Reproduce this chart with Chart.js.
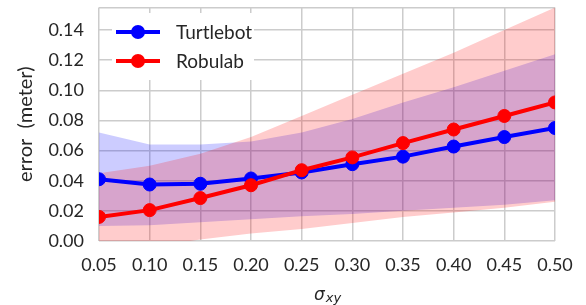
<!DOCTYPE html>
<html>
<head>
<meta charset="utf-8">
<script src="https://cdn.jsdelivr.net/npm/chart.js@4.4.1/dist/chart.umd.min.js"></script>
<style>
    html, body { margin: 0; padding: 0; background: #fff; }
</style>
</head>
<body>
<canvas id="errorChart" width="586" height="305"></canvas>
<script>
const sigmaXY = [0.05, 0.10, 0.15, 0.20, 0.25, 0.30, 0.35, 0.40, 0.45, 0.50];

const turtlebotMean  = [0.041, 0.0375, 0.038, 0.0415, 0.0455, 0.051, 0.056, 0.0627, 0.069, 0.075];
const turtlebotUpper = [0.072, 0.064, 0.064, 0.066, 0.072, 0.081, 0.092, 0.102, 0.113, 0.124];
const turtlebotLower = [0.010, 0.0105, 0.0125, 0.0145, 0.0165, 0.018, 0.020, 0.022, 0.024, 0.027];

const robulabMean  = [0.016, 0.0205, 0.0285, 0.037, 0.047, 0.0555, 0.065, 0.074, 0.083, 0.092];
const robulabUpper = [0.045, 0.050, 0.058, 0.069, 0.083, 0.097, 0.111, 0.125, 0.140, 0.155];
const robulabLower = [-0.008, -0.004, 0.001, 0.005, 0.008, 0.012, 0.016, 0.019, 0.022, 0.026];

const seriesNames = ['Turtlebot', 'Robulab'];

function pts(values) {
    return values.map((v, i) => ({ x: sigmaXY[i], y: v }));
}

function band(values, color, fillTarget, order) {
    return {
        data: pts(values),
        borderWidth: 0,
        pointRadius: 0,
        backgroundColor: color,
        fill: fillTarget,
        order: order,
        clip: 0
    };
}

function line(label, values, color, order) {
    return {
        label: label,
        data: pts(values),
        borderColor: color,
        backgroundColor: color,
        borderWidth: 4,
        pointRadius: 6.5,
        pointBorderWidth: 1,
        pointBorderColor: color,
        fill: false,
        order: order,
        clip: 0
    };
}

// legend drawn inside the plot, top-left, like matplotlib
const insideLegend = {
    id: 'insideLegend',
    afterDatasetsDraw(chart) {
        const ctx = chart.ctx;
        ctx.save();
        ctx.fillStyle = '#ffffff';
        ctx.fillRect(112, 13, 142, 67);
        const items = [
            { text: seriesNames[0], color: '#0000ff', y: 32 },
            { text: seriesNames[1], color: '#ff0000', y: 61 }
        ];
        items.forEach(it => {
            ctx.strokeStyle = it.color;
            ctx.lineWidth = 4;
            ctx.beginPath();
            ctx.moveTo(116, it.y);
            ctx.lineTo(160, it.y);
            ctx.stroke();
            ctx.fillStyle = it.color;
            ctx.beginPath();
            ctx.arc(138, it.y, 7, 0, Math.PI * 2);
            ctx.fill();
            ctx.fillStyle = '#262626';
            ctx.font = '19px Lato';
            ctx.textBaseline = 'middle';
            ctx.textAlign = 'left';
            ctx.fillText(it.text, 176, it.y + 1);
        });
        ctx.restore();
    }
};

// x axis title: sigma with subscript xy
const sigmaTitle = {
    id: 'sigmaTitle',
    afterDraw(chart) {
        const ctx = chart.ctx;
        const area = chart.chartArea;
        const cx = (area.left + area.right) / 2;
        ctx.save();
        ctx.fillStyle = '#262626';
        ctx.textBaseline = 'alphabetic';
        ctx.textAlign = 'left';
        ctx.font = 'italic 17px "DejaVu Sans"';
        const w1 = ctx.measureText('σ').width;
        ctx.font = 'italic 13px "DejaVu Sans"';
        const w2 = ctx.measureText('xy').width;
        const x0 = cx - (w1 + w2) / 2;
        ctx.font = 'italic 17px "DejaVu Sans"';
        ctx.fillText('σ', x0, 300);
        ctx.font = 'italic 13px "DejaVu Sans"';
        ctx.fillText('xy', x0 + w1 + 1, 302);
        ctx.restore();
    }
};

const ctx = document.getElementById('errorChart').getContext('2d');
new Chart(ctx, {
    type: 'line',
    data: {
        datasets: [
            band(turtlebotLower, 'rgba(0,0,255,0.2)', false, 5),
            band(turtlebotUpper, 'rgba(0,0,255,0.2)', 0, 4),
            band(robulabLower, 'rgba(255,0,0,0.2)', false, 3),
            band(robulabUpper, 'rgba(255,0,0,0.2)', 2, 2),
            line(seriesNames[0], turtlebotMean, '#0000ff', 1),
            line(seriesNames[1], robulabMean, '#ff0000', 0)
        ]
    },
    options: {
        responsive: false,
        animation: false,
        layout: { padding: { left: 0, right: 31, top: 6, bottom: 0 } },
        plugins: {
            legend: { display: false },
            tooltip: { enabled: false }
        },
        scales: {
            x: {
                type: 'linear',
                min: 0.05,
                max: 0.5,
                ticks: {
                    stepSize: 0.05,
                    padding: 13,
                    color: '#262626',
                    font: { family: 'Lato', size: 18 },
                    callback: v => v.toFixed(2)
                },
                grid: { color: '#cccccc', lineWidth: 1.5, drawTicks: false },
                border: { display: false },
                afterFit: s => { s.height = 64; s.paddingLeft = 0; s.paddingRight = 0; }
            },
            y: {
                min: 0,
                max: 0.155,
                ticks: {
                    stepSize: 0.02,
                    padding: 15,
                    color: '#262626',
                    font: { family: 'Lato', size: 18 },
                    callback: v => v > 0.145 ? '' : v.toFixed(2)
                },
                title: {
                    display: true,
                    text: 'error  (meter)',
                    color: '#262626',
                    font: { family: 'Lato', size: 20 },
                    padding: { top: 14, bottom: 0 }
                },
                grid: { color: '#cccccc', lineWidth: 1.5, drawTicks: false },
                border: { display: false },
                afterFit: s => { s.width = 99; s.paddingTop = 0; s.paddingBottom = 0; }
            }
        }
    },
    plugins: [insideLegend, sigmaTitle]
});
</script>
</body>
</html>
